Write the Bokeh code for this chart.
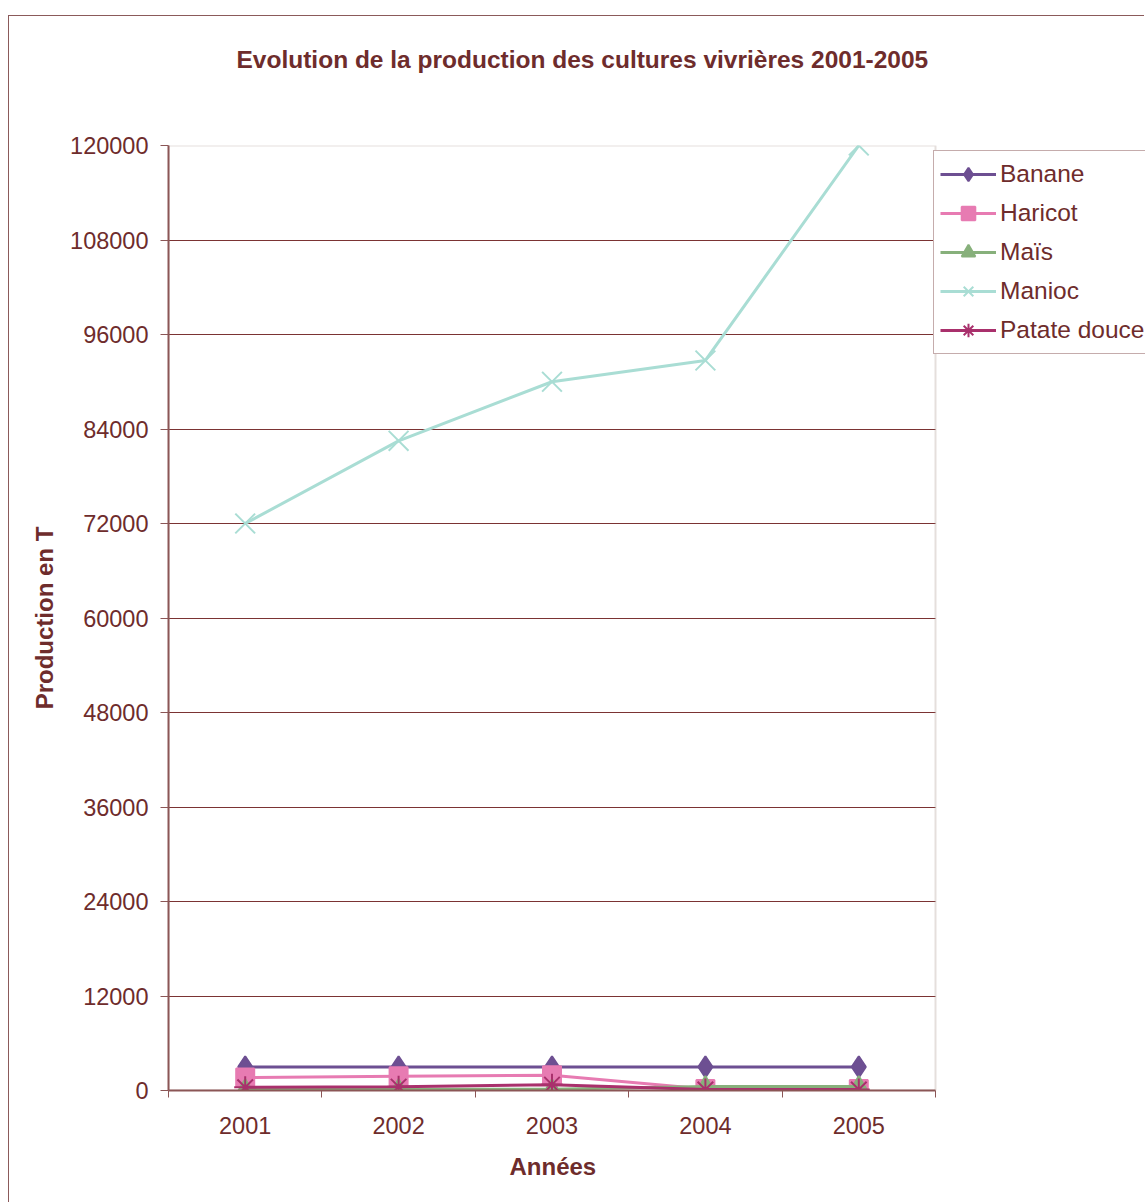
from bokeh.plotting import figure
from bokeh.models import (FixedTicker, BasicTickFormatter, Legend, LegendItem,
                          Range1d, BoxAnnotation, Title)
from bokeh.embed import file_html
from bokeh.resources import INLINE

# Production (tonnes) of food crops, 2001-2005
years = ["2001", "2002", "2003", "2004", "2005"]
banane = [3000, 3000, 3000, 3000, 3000]
haricot = [1650, 1800, 1930, 200, 200]
mais = [150, 150, 150, 520, 520]
manioc = [72000, 82500, 90000, 92700, 120000]
patate_douce = [410, 490, 740, 120, 120]

series_names = ["Banane", "Haricot", "Maïs", "Manioc", "Patate douce"]
series_values = [banane, haricot, mais, manioc, patate_douce]
y_ticks = list(range(0, 120001, 12000))

# styling
colors = ["#6D4F92", "#E77BB2", "#87B07B", "#A9DDD4", "#A9306C"]
markers = ["diamond", "square", "triangle", "x", "asterisk"]
marker_sizes = [21, 18, 18, 28, 22]
TEXT = "#6E2C2C"
AXIS = "#8B5656"
GRID = "#7B3333"
FRAME = "#A8968A"
FONT = "Liberation Sans"

xs = list(range(1, len(years) + 1))
x_lo, x_hi = 0.5, len(years) + 0.5
# the canvas keeps running to the right of the plot area to hold the legend
PLOT_W, TOTAL_W = 767, 977
x_view_end = x_lo + (x_hi - x_lo) * TOTAL_W / PLOT_W

p = figure(width=1136, height=1187,
           x_range=Range1d(x_lo, x_view_end),
           y_range=Range1d(0, 120000),
           output_backend="svg", toolbar_location=None,
           min_border_left=159, min_border_right=0,
           min_border_top=129, min_border_bottom=113)
p.styles = {"margin-left": "8px", "margin-top": "15px",
            "border-left": "1px solid #8B5A5A",
            "border-top": "1px solid #8B5A5A"}
p.outline_line_color = None
p.background_fill_color = "white"
p.border_fill_color = "white"

# title, lifted away from the plot area by a blank spacer title
p.title.text = "Evolution de la production des cultures vivrières 2001-2005"
p.title.align = "left"
p.title.offset = 68
p.title.standoff = 0
p.title.text_font = FONT
p.title.text_font_size = "24.5px"
p.title.text_font_style = "bold"
p.title.text_color = TEXT
p.add_layout(Title(text=" ", text_font_size="1px", standoff=70), "above")

# grid, limited to the plot area
p.xgrid.visible = False
p.ygrid.ticker = FixedTicker(ticks=y_ticks)
p.ygrid.grid_line_color = GRID
p.ygrid.grid_line_width = 1
p.ygrid.cross_bounds = (x_lo, x_hi)

# plot-area border
p.add_layout(BoxAnnotation(left=x_lo, right=x_hi, bottom=0, top=120000,
                           fill_alpha=0, line_color=FRAME, line_width=2,
                           level="underlay"))

# y axis
ya = p.yaxis[0]
ya.ticker = FixedTicker(ticks=y_ticks)
ya.formatter = BasicTickFormatter(use_scientific=False)
ya.axis_line_color = AXIS
ya.axis_line_width = 2
ya.major_tick_line_color = AXIS
ya.major_tick_out = 8
ya.major_tick_in = 0
ya.minor_tick_line_color = None
ya.major_label_standoff = 12
ya.major_label_text_font = FONT
ya.major_label_text_font_size = "23.5px"
ya.major_label_text_color = TEXT
ya.axis_label = "Production en T"
ya.axis_label_text_font = FONT
ya.axis_label_text_font_size = "24px"
ya.axis_label_text_font_style = "bold"
ya.axis_label_text_color = TEXT
ya.axis_label_standoff = 9

# x axis: labels at the years, tick marks between them
xa = p.xaxis[0]
xa.bounds = (x_lo, x_hi)
xa.ticker = FixedTicker(ticks=xs, minor_ticks=[x - 0.5 for x in xs] + [x_hi])
xa.major_label_overrides = {x: y for x, y in zip(xs, years)}
xa.axis_line_color = AXIS
xa.axis_line_width = 2
xa.major_tick_line_color = None
xa.major_tick_out = 7
xa.major_tick_in = 0
xa.minor_tick_line_color = AXIS
xa.minor_tick_out = 7
xa.minor_tick_in = 0
xa.major_label_standoff = 19
xa.major_label_text_font = FONT
xa.major_label_text_font_size = "23.5px"
xa.major_label_text_color = TEXT

# x-axis title, centred under the plot area
p.add_layout(Title(text="Années", align="left", offset=341, standoff=29,
                   text_font=FONT, text_font_size="24px",
                   text_font_style="bold", text_color=TEXT), "below")

items = []
for name, vals, col, mk, ms in zip(series_names, series_values, colors,
                                   markers, marker_sizes):
    lr = p.line(xs, vals, line_color=col, line_width=3)
    mr = p.scatter(xs, vals, marker=mk, size=ms, fill_color=col,
                   line_color=col, line_width=2)
    items.append(LegendItem(label=name, renderers=[lr, mr]))

legend = Legend(items=items, location=(765, 736))
legend.border_line_color = "#8B5A5A"
legend.border_line_width = 1
legend.background_fill_color = "white"
legend.background_fill_alpha = 1
legend.label_text_font = FONT
legend.label_text_font_size = "24.5px"
legend.label_text_color = TEXT
legend.label_standoff = 4
legend.glyph_width = 56
legend.glyph_height = 34
legend.label_height = 34
legend.spacing = 5
legend.padding = 6
legend.margin = 0
p.add_layout(legend, "center")

open("out.html", "w").write(file_html(p, INLINE))
